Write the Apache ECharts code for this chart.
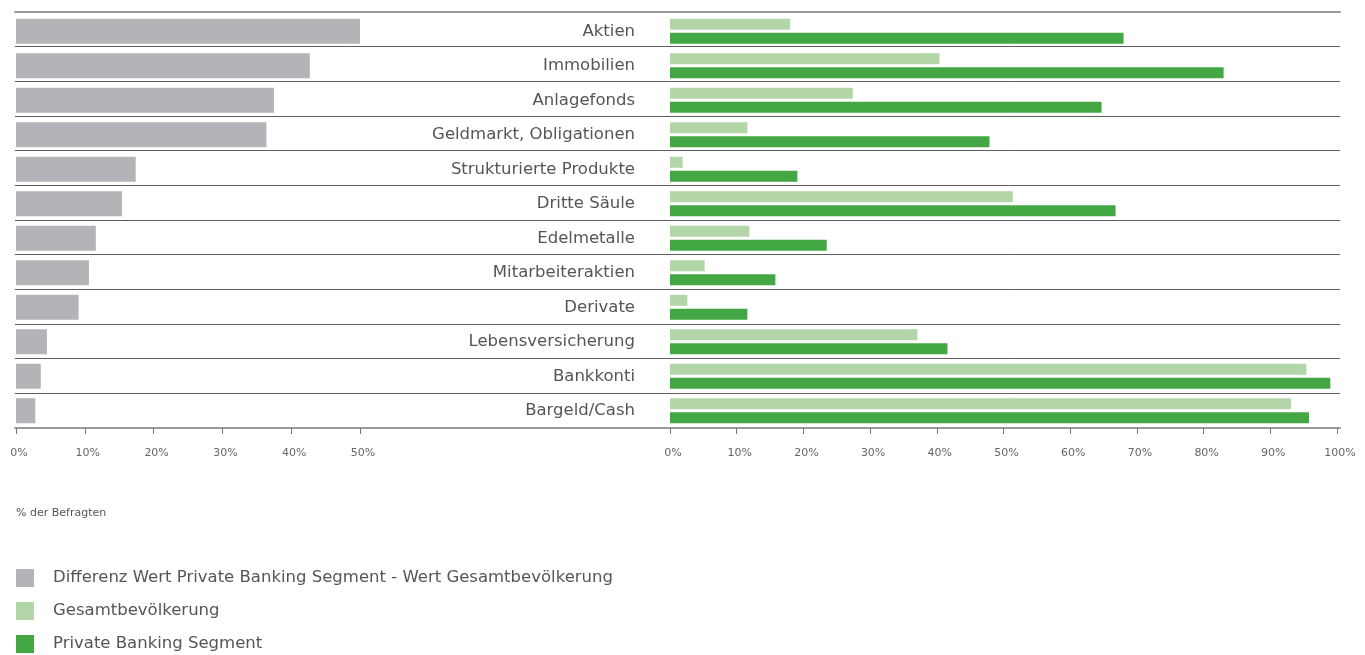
<!DOCTYPE html>
<html>
<head>
<meta charset="utf-8">
<script src="https://cdn.jsdelivr.net/npm/echarts@6/dist/echarts.min.js"></script>
<style>
html,body{margin:0;padding:0;background:#fff;}
#main{width:1365px;height:655px;}
</style>
</head>
<body>
<div id="main"></div>
<script>
var categories=['Aktien','Immobilien','Anlagefonds','Geldmarkt, Obligationen','Strukturierte Produkte','Dritte Säule','Edelmetalle','Mitarbeiteraktien','Derivate','Lebensversicherung','Bankkonti','Bargeld/Cash'];
var gesamt=[18,40.4,27.4,11.6,1.9,51.4,11.9,5.2,2.6,37.1,95.4,93.1];
var privat=[68,83,64.7,47.9,19.1,66.8,23.5,15.8,11.6,41.6,99,95.8];
var differenz=[50,42.7,37.5,36.4,17.4,15.4,11.6,10.6,9.1,4.5,3.6,2.8];
var leftTicks=[0,10,20,30,40,50];
var rightTicks=[0,10,20,30,40,50,60,70,80,90,100];

var nameDiff='Differenz Wert Private Banking Segment - Wert Gesamtbevölkerung';
var nameGesamt='Gesamtbevölkerung';
var namePrivat='Private Banking Segment';
var font='DejaVu Sans';

var tickAxis=function (grid,ticks) {          //x-Achse mit Prozent-Ticks
    return {
        type:'value',gridIndex:grid,min:ticks[0],max:ticks[ticks.length-1],interval:10,
        axisLine:{show:false},
        axisTick:{show:true,length:6,lineStyle:{color:'#777',width:1}},
        axisLabel:{color:'#666',fontSize:11,fontFamily:font,margin:20,padding:[0,0,0,6],formatter:'{value}%'},
        splitLine:{show:false}
    };
};

var option={
    animation:false,
    grid:[
        {left:16,top:14,width:344,height:414},
        {left:670,top:14,width:667,height:414},
        {left:15,top:12,width:1325,height:416}       //nur für die Trennlinien
    ],
    xAxis:[
        tickAxis(0,leftTicks),
        tickAxis(1,rightTicks),
        {type:'value',gridIndex:2,min:0,max:1,position:'bottom',
            axisLine:{show:true,lineStyle:{color:'#999',width:2}},axisTick:{show:false},axisLabel:{show:false},splitLine:{show:false}},
        {type:'value',gridIndex:2,min:0,max:1,position:'top',
            axisLine:{show:true,lineStyle:{color:'#999',width:2}},axisTick:{show:false},axisLabel:{show:false},splitLine:{show:false}}
    ],
    yAxis:[
        {type:'category',gridIndex:0,data:categories,inverse:true,
            axisLine:{show:false},axisTick:{show:false},axisLabel:{show:false}},
        {type:'category',gridIndex:1,data:categories,inverse:true,
            axisLine:{show:false},axisTick:{show:false},
            axisLabel:{color:'#555',fontSize:16.5,fontFamily:font,margin:35}},
        {type:'category',gridIndex:2,data:categories,inverse:true,
            axisLine:{show:false},axisTick:{show:false},axisLabel:{show:false},
            splitLine:{show:true,lineStyle:{color:'#5e5e5e',width:1}}}
    ],
    legend:{
        orient:'vertical',left:16,top:569,padding:0,
        itemWidth:18,itemHeight:18,itemGap:15,icon:'rect',
        textStyle:{color:'#555',fontSize:16.5,fontFamily:font,padding:[0,0,0,14]},
        data:[nameDiff,nameGesamt,namePrivat]
    },
    graphic:[
        {type:'text',left:16,top:508,style:{text:'% der Befragten',fill:'#555',fontSize:11,fontFamily:font}}
    ],
    series:[
        {name:nameDiff,type:'bar',xAxisIndex:0,yAxisIndex:0,data:differenz,barWidth:25,
            itemStyle:{color:'#b3b4b8'}},
        {name:nameGesamt,type:'bar',xAxisIndex:1,yAxisIndex:1,data:gesamt,barWidth:11,barGap:'27%',
            itemStyle:{color:'#b3d6a9'}},
        {name:namePrivat,type:'bar',xAxisIndex:1,yAxisIndex:1,data:privat,barWidth:11,barGap:'27%',
            itemStyle:{color:'#43a844'}}
    ]
};
var myChart=echarts.init(document.getElementById('main'));
option && myChart.setOption(option);
</script>
</body>
</html>
